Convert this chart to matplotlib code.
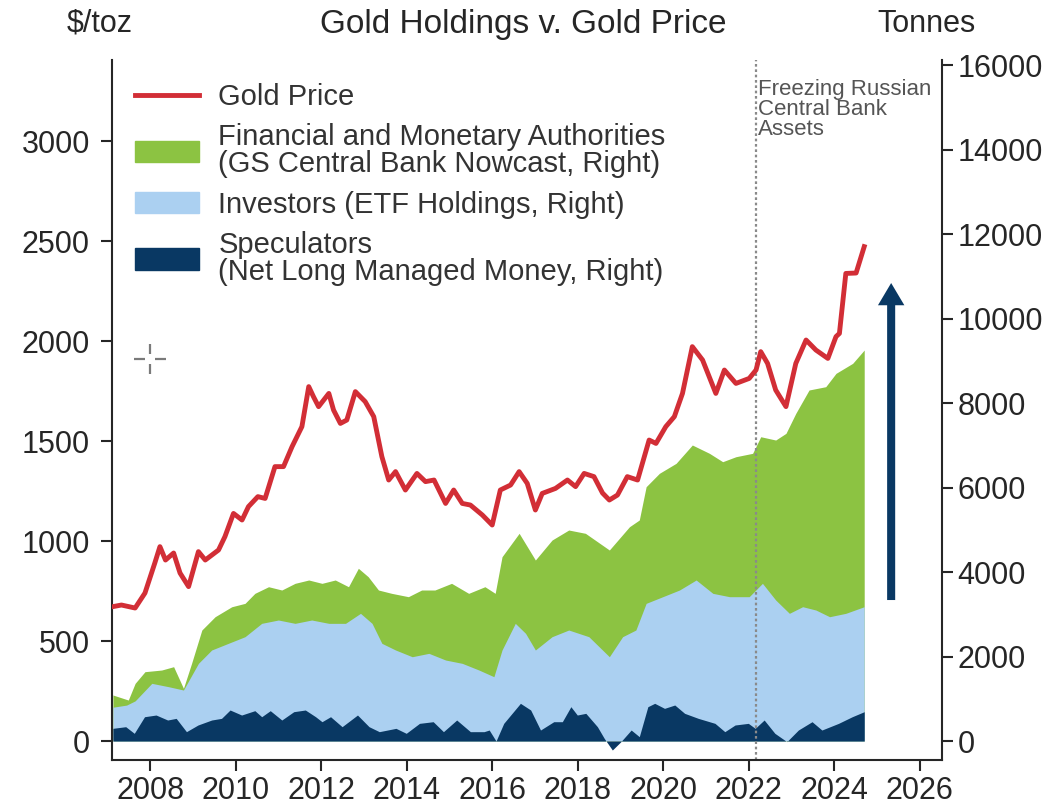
import matplotlib
matplotlib.use("Agg")
import matplotlib.pyplot as plt
from matplotlib.lines import Line2D
from matplotlib.patches import Patch

plt.rcParams['font.family'] = ['Liberation Sans', 'DejaVu Sans']

# ---------------- data ----------------
price_years = [2007.13, 2007.33, 2007.65, 2007.88, 2008.11, 2008.23, 2008.36, 2008.55, 2008.70, 2008.90,
               2009.13, 2009.29, 2009.60, 2009.75, 2009.95, 2010.15, 2010.30, 2010.52, 2010.69, 2010.92,
               2011.12, 2011.32, 2011.55, 2011.71, 2011.82, 2011.94, 2012.06, 2012.18, 2012.29, 2012.45,
               2012.60, 2012.80, 2013.03, 2013.23, 2013.42, 2013.58, 2013.74, 2013.97, 2014.24, 2014.44,
               2014.64, 2014.91, 2015.10, 2015.30, 2015.49, 2015.77, 2016.00, 2016.19, 2016.43, 2016.63,
               2016.82, 2017.01, 2017.17, 2017.48, 2017.76, 2017.95, 2018.15, 2018.38, 2018.58, 2018.74,
               2018.93, 2019.16, 2019.40, 2019.67, 2019.83, 2020.06, 2020.26, 2020.45, 2020.68, 2020.92,
               2021.23, 2021.43, 2021.70, 2022.01, 2022.17, 2022.28, 2022.44, 2022.63, 2022.87, 2023.10,
               2023.34, 2023.57, 2023.85, 2024.04, 2024.12, 2024.27, 2024.51, 2024.70]
gold_price = [672, 680, 665, 740, 890, 972, 905, 940, 840, 772,
              947, 905, 955, 1022, 1138, 1105, 1172, 1222, 1213, 1372,
              1372, 1472, 1572, 1772, 1722, 1672, 1705, 1738, 1655, 1588,
              1605, 1747, 1697, 1622, 1422, 1305, 1347, 1255, 1338, 1297,
              1305, 1188, 1255, 1188, 1180, 1130, 1080, 1255, 1280, 1347,
              1288, 1155, 1238, 1263, 1305, 1272, 1338, 1322, 1240, 1205,
              1230, 1322, 1305, 1505, 1488, 1572, 1622, 1738, 1972, 1905,
              1738, 1855, 1788, 1813, 1855, 1947, 1888, 1755, 1672, 1888,
              2005, 1955, 1913, 2022, 2038, 2338, 2340, 2472]

# stacked top of the Financial and Monetary Authorities band (tonnes)
auth_years = [2007.13, 2007.49, 2007.65, 2007.88, 2008.27, 2008.55, 2008.78, 2008.97, 2009.21, 2009.52,
              2009.91, 2010.22, 2010.45, 2010.77, 2011.08, 2011.39, 2011.71, 2012.02, 2012.33, 2012.64,
              2012.87, 2013.10, 2013.34, 2013.65, 2014.04, 2014.35, 2014.66, 2015.05, 2015.45, 2015.83,
              2016.07, 2016.23, 2016.63, 2017.01, 2017.40, 2017.79, 2018.18, 2018.74, 2019.21, 2019.44,
              2019.60, 2019.91, 2020.30, 2020.68, 2021.08, 2021.39, 2021.70, 2022.09, 2022.28, 2022.63,
              2022.87, 2023.10, 2023.41, 2023.80, 2024.04, 2024.43, 2024.70]
authorities_cum = [1089, 970, 1365, 1641, 1680, 1759, 1247, 1838, 2627, 2942,
                   3178, 3258, 3495, 3652, 3574, 3732, 3811, 3732, 3811, 3652,
                   4088, 3889, 3574, 3495, 3416, 3574, 3574, 3732, 3495, 3652,
                   3495, 4362, 4916, 4284, 4757, 4994, 4916, 4521, 5072, 5231,
                   6019, 6336, 6572, 7006, 6809, 6611, 6729, 6809, 7202, 7124,
                   7282, 7756, 8308, 8386, 8702, 8939, 9254]

# Investors (ETF holdings, tonnes)
inv_years = [2007.13, 2007.45, 2007.65, 2008.04, 2008.43, 2008.78, 2009.13, 2009.44, 2009.83, 2010.22,
             2010.61, 2011.00, 2011.39, 2011.78, 2012.18, 2012.57, 2012.92, 2013.19, 2013.42, 2013.74,
             2014.13, 2014.52, 2014.91, 2015.30, 2015.69, 2016.04, 2016.23, 2016.54, 2016.78, 2017.01,
             2017.40, 2017.79, 2018.26, 2018.74, 2019.05, 2019.36, 2019.60, 2019.99, 2020.38, 2020.77,
             2021.16, 2021.55, 2022.01, 2022.32, 2022.63, 2022.95, 2023.26, 2023.57, 2023.89, 2024.27,
             2024.70]
investors = [800, 850, 950, 1365, 1286, 1207, 1838, 2154, 2312, 2469,
             2785, 2864, 2785, 2864, 2785, 2785, 3022, 2785, 2312, 2154,
             1995, 2075, 1917, 1838, 1680, 1522, 2154, 2785, 2549, 2154,
             2469, 2627, 2469, 1995, 2469, 2627, 3258, 3416, 3574, 3811,
             3495, 3416, 3416, 3732, 3337, 3022, 3179, 3100, 2942, 3022,
             3179]

# Speculators (net long managed money, tonnes)
spec_years = [2007.13, 2007.43, 2007.63, 2007.87, 2008.14, 2008.41, 2008.61, 2008.85, 2009.12, 2009.44,
              2009.67, 2009.87, 2010.14, 2010.45, 2010.61, 2010.81, 2011.08, 2011.36, 2011.63, 2011.87,
              2012.02, 2012.22, 2012.49, 2012.85, 2013.12, 2013.36, 2013.75, 2013.99, 2014.30, 2014.62,
              2014.86, 2015.17, 2015.49, 2015.81, 2015.93, 2016.09, 2016.27, 2016.66, 2016.90, 2017.13,
              2017.44, 2017.64, 2017.84, 2017.99, 2018.19, 2018.46, 2018.62, 2018.81, 2019.01, 2019.25,
              2019.44, 2019.64, 2019.80, 2020.03, 2020.27, 2020.50, 2020.82, 2021.21, 2021.44, 2021.68,
              2021.99, 2022.15, 2022.36, 2022.61, 2022.89, 2023.16, 2023.48, 2023.71, 2024.10, 2024.42,
              2024.70]
speculators = [300, 339, 182, 575, 615, 497, 536, 221, 379, 497,
               536, 734, 615, 718, 575, 718, 497, 694, 734, 575,
               457, 575, 339, 615, 339, 221, 300, 182, 418, 457,
               221, 497, 221, 221, 260, 0, 418, 892, 734, 260,
               457, 457, 812, 615, 655, 339, 63, -213, -15, 260,
               103, 812, 892, 773, 852, 655, 536, 418, 221, 379,
               418, 300, 497, 182, -15, 260, 457, 260, 418, 575,
               694]

x_ticks = list(range(2008, 2027, 2))
left_ticks = [0, 500, 1000, 1500, 2000, 2500, 3000]
right_ticks = list(range(0, 16001, 2000))

event_year = 2022.17
event_label = "Freezing Russian\nCentral Bank\nAssets"
arrow_year = 2025.33
arrow_from, arrow_to = 3337, 10840

legend_labels = ["Gold Price",
                 "Financial and Monetary Authorities\n(GS Central Bank Nowcast, Right)",
                 "Investors (ETF Holdings, Right)",
                 "Speculators\n(Net Long Managed Money, Right)"]

# ---------------- style ----------------
RED = "#d22e36"
GREEN = "#8cc342"
LIGHTBLUE = "#abd0f1"
NAVY = "#093863"
TXT = "#262626"

fig = plt.figure(figsize=(10.58, 8.08), dpi=100)
ax = fig.add_axes([0.1059, 0.060, 0.7845, 0.8657])
ax2 = ax.twinx()
ax.set_zorder(ax2.get_zorder() + 1)
ax.patch.set_visible(False)

ax2.fill_between(auth_years, 0, authorities_cum, color=GREEN, lw=0)
ax2.fill_between(inv_years, 0, investors, color=LIGHTBLUE, lw=0)
ax2.fill_between(spec_years, 0, speculators, color=NAVY, lw=0)

ax.axvline(event_year, color="#8a8a8a", ls=(0, (1.2, 1.2)), lw=1.6, zorder=1)
ax.plot(price_years, gold_price, color=RED, lw=3.5, solid_joinstyle="round", zorder=3)

ax.text(event_year + 0.05, 3310, event_label, ha="left", va="top", fontsize=16,
        color="#555555", linespacing=0.95)

ax2.annotate("", xy=(arrow_year, arrow_to), xytext=(arrow_year, arrow_from),
             arrowprops=dict(arrowstyle="simple,head_length=0.8,head_width=0.95,tail_width=0.29",
                             mutation_scale=20, color=NAVY, lw=0, shrinkA=0, shrinkB=0))

# small crosshair glyph
cx, cy = 2008.0, 1908
for (xa, xb, ya, yb) in [(cx - 0.38, cx - 0.12, cy, cy), (cx + 0.12, cx + 0.38, cy, cy),
                         (cx, cx, cy + 25, cy + 75), (cx, cx, cy - 75, cy - 25)]:
    ax.plot([xa, xb], [ya, yb], color="#7a7a7a", lw=1.6, solid_capstyle="butt", zorder=3)

ax.set_xlim(2007.11, 2026.52)
ax.set_ylim(-92.5, 3405)
ax2.set_ylim(-438, 16118)
ax.set_xticks(x_ticks)
ax.set_xticklabels([str(t) for t in x_ticks])
ax.set_yticks(left_ticks)
ax2.set_yticks(right_ticks)

for a in (ax, ax2):
    a.spines["top"].set_visible(False)
    for s in a.spines.values():
        s.set_linewidth(1.5)
        s.set_color(TXT)
ax.spines["right"].set_visible(False)
ax2.spines["left"].set_visible(False)
ax2.spines["bottom"].set_visible(False)

ax.tick_params(axis="both", labelsize=22, length=8, width=1.5, colors=TXT)
ax.tick_params(axis="x", pad=4)
ax.tick_params(axis="y", pad=8)
ax2.tick_params(axis="y", labelsize=22, length=8, width=1.5, colors=TXT, pad=3)

handles = [Line2D([], [], color=RED, lw=3.5), Patch(color=GREEN), Patch(color=LIGHTBLUE), Patch(color=NAVY)]
leg = ax.legend(handles, legend_labels, loc="upper left", bbox_to_anchor=(0.028, 0.967),
                frameon=False, fontsize=21, handlelength=2.2, handleheight=0.75,
                handletextpad=0.65, labelspacing=0.42, borderaxespad=0, borderpad=0)
for t in leg.get_texts():
    t.set_linespacing(0.95)
    t.set_color("#333333")

fig.text(100 / 1058, 1 - 24 / 808, "$/toz", ha="center", va="center", fontsize=22, color=TXT)
fig.text(523 / 1058, 1 - 24 / 808, "Gold Holdings v. Gold Price", ha="center", va="center",
         fontsize=24, color=TXT)
fig.text(926 / 1058, 1 - 24 / 808, "Tonnes", ha="center", va="center", fontsize=22, color=TXT)

fig.savefig("out.png", dpi=100, facecolor="white")
